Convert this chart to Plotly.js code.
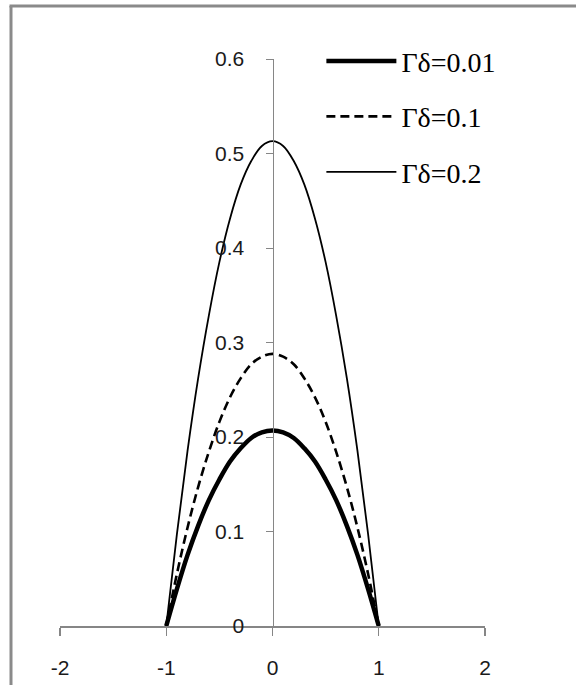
<!DOCTYPE html>
<html>
<head>
<meta charset="utf-8">
<script src="https://cdn.plot.ly/plotly-3.0.1.min.js"></script>
<style>
  html, body { margin: 0; padding: 0; background: #ffffff; }
  #chart { width: 576px; height: 685px; }
</style>
</head>
<body>
<div id="chart"></div>
<script>
// Position across the channel (-1 .. 1)
const xPos = [-1, -0.9, -0.8, -0.7, -0.6, -0.5, -0.4, -0.3, -0.2, -0.1, 0,
              0.1, 0.2, 0.3, 0.4, 0.5, 0.6, 0.7, 0.8, 0.9, 1];

// Profiles for each Γδ value
const profile001 = [0, 0.039, 0.075, 0.106, 0.133, 0.155, 0.174, 0.188, 0.199, 0.205, 0.207,
                    0.205, 0.199, 0.188, 0.174, 0.155, 0.133, 0.106, 0.075, 0.039, 0];
const profile01  = [0, 0.055, 0.104, 0.147, 0.184, 0.216, 0.242, 0.262, 0.277, 0.285, 0.288,
                    0.285, 0.277, 0.262, 0.242, 0.216, 0.184, 0.147, 0.104, 0.055, 0];
const profile02  = [0, 0.097, 0.185, 0.262, 0.328, 0.385, 0.431, 0.467, 0.492, 0.508, 0.513,
                    0.508, 0.492, 0.467, 0.431, 0.385, 0.328, 0.262, 0.185, 0.097, 0];

const seriesNames = ['Γδ=0.01', 'Γδ=0.1', 'Γδ=0.2'];

const xTicks = [-2, -1, 0, 1, 2];
const xTickText = ['-2', '-1', '0', '1', '2'];
const yTicks = [0, 0.1, 0.2, 0.3, 0.4, 0.5, 0.6];
const yTickText = ['0', '0.1', '0.2', '0.3', '0.4', '0.5', '0.6'];

const axisGrey = '#868686';

const traces = [
  { x: xPos, y: profile001, name: seriesNames[0], legendgroup: 'a', mode: 'lines',
    line: { color: '#000000', width: 4.5, shape: 'spline' } },
  { x: xPos, y: profile01, name: seriesNames[1], legendgroup: 'b', mode: 'lines',
    line: { color: '#000000', width: 2.6, dash: '9px,5px', shape: 'spline' } },
  { x: xPos, y: profile02, name: seriesNames[2], legendgroup: 'c', mode: 'lines',
    line: { color: '#000000', width: 1.8, shape: 'spline' } }
];

const layout = {
  width: 576,
  height: 685,
  margin: { l: 60, r: 91, t: 59, b: 59 },
  paper_bgcolor: '#ffffff',
  plot_bgcolor: '#ffffff',
  showlegend: true,
  legend: {
    x: 0.615, xanchor: 'left',
    y: 1.04, yanchor: 'top',
    bgcolor: 'rgba(0,0,0,0)',
    borderwidth: 0,
    itemwidth: 70,
    tracegroupgap: 16,
    traceorder: 'grouped',
    font: { family: 'Liberation Serif, Times New Roman, serif', size: 28, color: '#000000' }
  },
  xaxis: {
    range: [-2, 2],
    tickvals: xTicks, ticktext: xTickText,
    showgrid: false, zeroline: false,
    showline: true, linecolor: axisGrey, linewidth: 1.5,
    ticks: 'outside', ticklen: 8, tickwidth: 1.2, tickcolor: axisGrey,
    ticklabelstandoff: 14,
    tickfont: { family: 'Liberation Sans, Arial, sans-serif', size: 21, color: '#1a1a1a' },
    fixedrange: true
  },
  yaxis: {
    range: [0, 0.6],
    anchor: 'free', position: 0.5,
    tickvals: yTicks, ticktext: yTickText,
    showgrid: false, zeroline: false,
    showline: true, linecolor: axisGrey, linewidth: 1,
    ticks: 'outside', ticklen: 7, tickwidth: 1, tickcolor: axisGrey,
    ticklabelstandoff: 17,
    tickfont: { family: 'Liberation Sans, Arial, sans-serif', size: 21, color: '#1a1a1a' },
    fixedrange: true
  },
  shapes: [
    // outer frame: left and top edges
    { type: 'line', xref: 'paper', yref: 'paper', x0: -0.1153, x1: -0.1153, y0: -0.2, y1: 1.0935,
      line: { color: '#8a8a8a', width: 3 } },
    { type: 'line', xref: 'paper', yref: 'paper', x0: -0.1188, x1: 1.4, y0: 1.0935, y1: 1.0935,
      line: { color: '#8a8a8a', width: 3 } }
  ]
};

Plotly.newPlot('chart', traces, layout, { displayModeBar: false, staticPlot: true });
</script>
</body>
</html>
